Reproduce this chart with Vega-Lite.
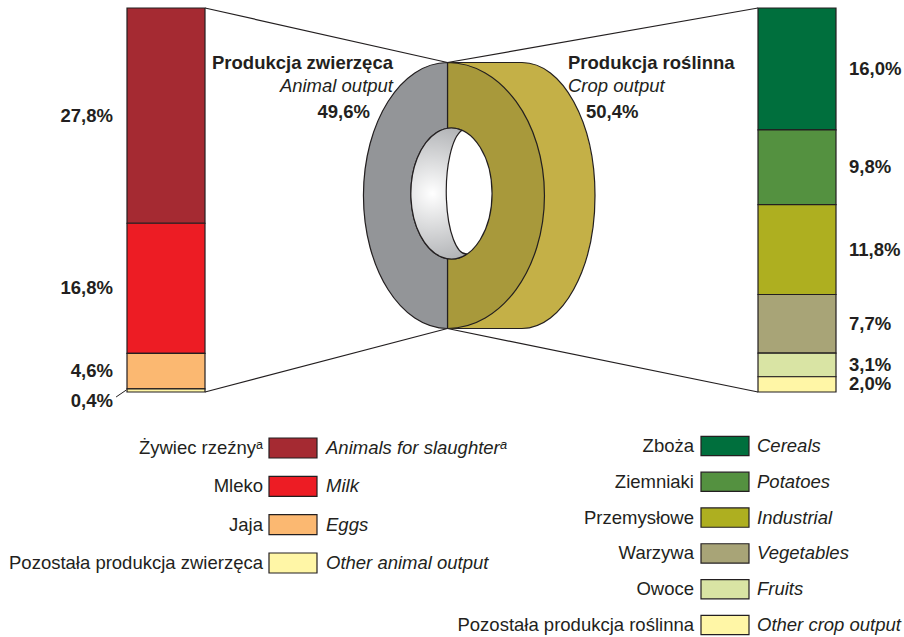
{
  "$schema": "https://vega.github.io/schema/vega-lite/v6.json",
  "width": 904,
  "height": 637,
  "padding": 0,
  "autosize": {"type": "none"},
  "background": "white",
  "config": {
    "view": {"stroke": null},
    "text": {"font": "Liberation Sans", "fontSize": 18.5, "color": "#231F20"},
    "rule": {"color": "#231F20", "strokeWidth": 1.2}
  },
  "datasets": {
    "items": [
      {"side": "Animal", "order": 1, "pl": "Żywiec rzeźnyᵃ", "en": "Animals for slaughterᵃ", "value": 27.8, "label": "27,8%"},
      {"side": "Animal", "order": 2, "pl": "Mleko", "en": "Milk", "value": 16.8, "label": "16,8%"},
      {"side": "Animal", "order": 3, "pl": "Jaja", "en": "Eggs", "value": 4.6, "label": "4,6%"},
      {"side": "Animal", "order": 4, "pl": "Pozostała produkcja zwierzęca", "en": "Other animal output", "value": 0.4, "label": "0,4%"},
      {"side": "Crop", "order": 1, "pl": "Zboża", "en": "Cereals", "value": 16.0, "label": "16,0%"},
      {"side": "Crop", "order": 2, "pl": "Ziemniaki", "en": "Potatoes", "value": 9.8, "label": "9,8%"},
      {"side": "Crop", "order": 3, "pl": "Przemysłowe", "en": "Industrial", "value": 11.8, "label": "11,8%"},
      {"side": "Crop", "order": 4, "pl": "Warzywa", "en": "Vegetables", "value": 7.7, "label": "7,7%"},
      {"side": "Crop", "order": 5, "pl": "Owoce", "en": "Fruits", "value": 3.1, "label": "3,1%"},
      {"side": "Crop", "order": 6, "pl": "Pozostała produkcja roślinna", "en": "Other crop output", "value": 2.0, "label": "2,0%"}
    ],
    "totals": [
      {"side": "Animal", "pl": "Produkcja zwierzęca", "en": "Animal output", "value": 49.6, "label": "49,6%"},
      {"side": "Crop", "pl": "Produkcja roślinna", "en": "Crop output", "value": 50.4, "label": "50,4%"}
    ]
  },
  "resolve": {"scale": {"x": "independent", "y": "independent"}},
  "layer": [
    {
      "layer": [
        {
          "data": {"name": "items"},
          "transform": [
            {"stack": "value", "groupby": ["side"], "offset": "normalize", "sort": [{"field": "order", "order": "ascending"}], "as": ["y0", "y1"]}
          ],
          "mark": {"type": "rect", "stroke": "#231F20", "strokeWidth": 1.2},
          "encoding": {
            "x": {"field": "side", "type": "nominal", "axis": null, "scale": {"type": "band", "domain": ["Animal", "Center", "Crop"], "paddingInner": 0.75277, "paddingOuter": 0.30903, "align": 0.6513, "round": false}},
            "y": {"field": "y0", "type": "quantitative", "axis": null, "scale": {"type": "linear", "domain": [-0.0208333, 1.6380208], "reverse": true, "zero": false, "nice": false}},
            "y2": {"field": "y1"},
            "color": {"field": "en", "type": "nominal", "legend": null, "scale": {"domain": ["Animals for slaughterᵃ", "Milk", "Eggs", "Other animal output", "Cereals", "Potatoes", "Industrial", "Vegetables", "Fruits", "Other crop output"], "range": ["#A52A32", "#ED1C24", "#FBB871", "#FFF6A6", "#006F3D", "#549140", "#AEAF20", "#A8A477", "#D9E4A4", "#FFF6A6"]}}
          }
        },
        {
          "data": {"name": "items"},
          "transform": [
            {"stack": "value", "groupby": ["side"], "offset": "normalize", "sort": [{"field": "order", "order": "ascending"}], "as": ["y0", "y1"]},
            {"fold": ["y0", "y1"], "as": ["k", "v"]},
            {"aggregate": [{"op": "mean", "field": "v", "as": "mid"}], "groupby": ["side", "order", "label"]},
            {"filter": "datum.side === 'Animal' && datum.order < 4"}
          ],
          "mark": {"type": "text", "align": "right", "baseline": "middle", "dx": -14, "fontWeight": "bold"},
          "encoding": {
            "x": {"field": "side", "type": "nominal", "bandPosition": 0, "axis": null},
            "y": {"field": "mid", "type": "quantitative", "axis": null},
            "text": {"field": "label"}
          }
        },
        {
          "data": {"name": "items"},
          "transform": [
            {"stack": "value", "groupby": ["side"], "offset": "normalize", "sort": [{"field": "order", "order": "ascending"}], "as": ["y0", "y1"]},
            {"fold": ["y0", "y1"], "as": ["k", "v"]},
            {"aggregate": [{"op": "mean", "field": "v", "as": "mid"}], "groupby": ["side", "order", "label"]},
            {"filter": "datum.side === 'Animal' && datum.order === 4"}
          ],
          "mark": {"type": "text", "align": "right", "baseline": "middle", "dx": -14, "dy": 10.5, "fontWeight": "bold"},
          "encoding": {
            "x": {"field": "side", "type": "nominal", "bandPosition": 0, "axis": null},
            "y": {"field": "mid", "type": "quantitative", "axis": null},
            "text": {"field": "label"}
          }
        },
        {
          "data": {"name": "items"},
          "transform": [
            {"stack": "value", "groupby": ["side"], "offset": "normalize", "sort": [{"field": "order", "order": "ascending"}], "as": ["y0", "y1"]},
            {"fold": ["y0", "y1"], "as": ["k", "v"]},
            {"aggregate": [{"op": "mean", "field": "v", "as": "mid"}], "groupby": ["side", "order", "label"]},
            {"filter": "datum.side === 'Crop'"}
          ],
          "mark": {"type": "text", "align": "left", "baseline": "middle", "dx": 13, "fontWeight": "bold"},
          "encoding": {
            "x": {"field": "side", "type": "nominal", "bandPosition": 1, "axis": null},
            "y": {"field": "mid", "type": "quantitative", "axis": null},
            "text": {"field": "label"}
          }
        },
        {
          "data": {"name": "totals"},
          "transform": [{"filter": "datum.side === 'Animal'"}],
          "mark": {"type": "rule"},
          "encoding": {
            "x": {"datum": "Animal", "type": "nominal", "bandPosition": 1, "axis": null},
            "x2": {"datum": "Center", "bandPosition": 0.0641},
            "y": {"datum": 0, "type": "quantitative", "axis": null},
            "y2": {"datum": 0.14193}
          }
        },
        {
          "data": {"name": "totals"},
          "transform": [{"filter": "datum.side === 'Animal'"}],
          "mark": {"type": "rule"},
          "encoding": {
            "x": {"datum": "Animal", "type": "nominal", "bandPosition": 1, "axis": null},
            "x2": {"datum": "Center", "bandPosition": 0.0641},
            "y": {"datum": 1, "type": "quantitative", "axis": null},
            "y2": {"datum": 0.83464}
          }
        },
        {
          "data": {"name": "totals"},
          "transform": [{"filter": "datum.side === 'Crop'"}],
          "mark": {"type": "rule"},
          "encoding": {
            "x": {"datum": "Crop", "type": "nominal", "bandPosition": 0, "axis": null},
            "x2": {"datum": "Center", "bandPosition": 0.0641},
            "y": {"datum": 0, "type": "quantitative", "axis": null},
            "y2": {"datum": 0.14193}
          }
        },
        {
          "data": {"name": "totals"},
          "transform": [{"filter": "datum.side === 'Crop'"}],
          "mark": {"type": "rule"},
          "encoding": {
            "x": {"datum": "Crop", "type": "nominal", "bandPosition": 0, "axis": null},
            "x2": {"datum": "Center", "bandPosition": 0.0641},
            "y": {"datum": 1, "type": "quantitative", "axis": null},
            "y2": {"datum": 0.83464}
          }
        },
        {
          "data": {"name": "totals"},
          "transform": [{"filter": "datum.side === 'Animal'"}],
          "mark": {"type": "rule", "strokeWidth": 1},
          "encoding": {
            "x": {"datum": "Animal", "type": "nominal", "bandPosition": -0.14, "axis": null},
            "x2": {"datum": "Animal", "bandPosition": -0.01},
            "y": {"datum": 1.013, "type": "quantitative", "axis": null},
            "y2": {"datum": 0.995}
          }
        },
        {
          "data": {"name": "totals"},
          "transform": [{"filter": "datum.side === 'Crop'"}],
          "mark": {"type": "point", "shape": "M0,-1L0.56,-1A0.549,1 0 0 1 0.56,1L0,1Z", "size": 70756, "filled": true, "fill": "#C4B047", "stroke": "#231F20", "strokeWidth": 1.2, "opacity": 1},
          "encoding": {
            "x": {"datum": "Center", "type": "nominal", "bandPosition": 0.0641, "axis": null},
            "y": {"datum": 0.48828, "type": "quantitative", "axis": null}
          }
        },
        {
          "data": {"name": "totals"},
          "transform": [{"filter": "datum.side === 'Crop'"}],
          "mark": {"type": "point", "shape": "M0,-1A0.729,1 0 0 1 0,1Z", "size": 70756, "filled": true, "fill": "#A8993B", "stroke": "#231F20", "strokeWidth": 1.2, "opacity": 1},
          "encoding": {
            "x": {"datum": "Center", "type": "nominal", "bandPosition": 0.0641, "axis": null},
            "y": {"datum": 0.48828, "type": "quantitative", "axis": null}
          }
        },
        {
          "data": {"name": "totals"},
          "transform": [{"filter": "datum.side === 'Animal'"}],
          "mark": {"type": "point", "shape": "M0,-1A0.632,1 0 0 0 0,1Z", "size": 70756, "filled": true, "fill": "#939598", "stroke": "#231F20", "strokeWidth": 1.2, "opacity": 1},
          "encoding": {
            "x": {"datum": "Center", "type": "nominal", "bandPosition": 0.0641, "axis": null},
            "y": {"datum": 0.48828, "type": "quantitative", "axis": null}
          }
        },
        {
          "data": {"name": "totals"},
          "transform": [{"filter": "datum.side === 'Animal'"}],
          "mark": {"type": "point", "shape": "M-0.275,-0.015A0.305,0.492 0 1 0 0.335,-0.015A0.305,0.492 0 1 0 -0.275,-0.015Z", "size": 70756, "filled": true, "fill": "#FFFFFF", "stroke": "#231F20", "strokeWidth": 1.2, "opacity": 1},
          "encoding": {
            "x": {"datum": "Center", "type": "nominal", "bandPosition": 0.0641, "axis": null},
            "y": {"datum": 0.48828, "type": "quantitative", "axis": null}
          }
        },
        {
          "data": {"name": "totals"},
          "transform": [{"filter": "datum.side === 'Animal'"}],
          "mark": {"type": "point", "shape": "M0.109,-0.490A0.305,0.492 0 1 0 0.147,0.439A0.15,0.47 0 0 1 0.109,-0.490Z", "size": 70756, "filled": true, "fill": {"gradient": "radial", "x1": 0.45, "y1": 0.5, "x2": 0.45, "y2": 0.5, "r1": 0, "r2": 0.6, "stops": [{"offset": 0, "color": "#FFFFFF"}, {"offset": 1, "color": "#A7A9AC"}]}, "stroke": "#231F20", "strokeWidth": 1.2, "opacity": 1},
          "encoding": {
            "x": {"datum": "Center", "type": "nominal", "bandPosition": 0.0641, "axis": null},
            "y": {"datum": 0.48828, "type": "quantitative", "axis": null}
          }
        },
        {
          "data": {"name": "totals"},
          "transform": [{"filter": "datum.side === 'Animal'"}],
          "mark": {"type": "text", "align": "right", "baseline": "middle", "dx": -54.5, "fontWeight": "bold"},
          "encoding": {
            "x": {"datum": "Center", "type": "nominal", "bandPosition": 0.0641, "axis": null},
            "y": {"datum": 0.14193, "type": "quantitative", "axis": null},
            "text": {"field": "pl"}
          }
        },
        {
          "data": {"name": "totals"},
          "transform": [{"filter": "datum.side === 'Animal'"}],
          "mark": {"type": "text", "align": "right", "baseline": "middle", "dx": -54.5, "dy": 23, "fontStyle": "italic"},
          "encoding": {
            "x": {"datum": "Center", "type": "nominal", "bandPosition": 0.0641, "axis": null},
            "y": {"datum": 0.14193, "type": "quantitative", "axis": null},
            "text": {"field": "en"}
          }
        },
        {
          "data": {"name": "totals"},
          "transform": [{"filter": "datum.side === 'Animal'"}],
          "mark": {"type": "text", "align": "right", "baseline": "middle", "dx": -77.5, "dy": 49, "fontWeight": "bold"},
          "encoding": {
            "x": {"datum": "Center", "type": "nominal", "bandPosition": 0.0641, "axis": null},
            "y": {"datum": 0.14193, "type": "quantitative", "axis": null},
            "text": {"field": "label"}
          }
        },
        {
          "data": {"name": "totals"},
          "transform": [{"filter": "datum.side === 'Crop'"}],
          "mark": {"type": "text", "align": "left", "baseline": "middle", "dx": 120.5, "fontWeight": "bold"},
          "encoding": {
            "x": {"datum": "Center", "type": "nominal", "bandPosition": 0.0641, "axis": null},
            "y": {"datum": 0.14193, "type": "quantitative", "axis": null},
            "text": {"field": "pl"}
          }
        },
        {
          "data": {"name": "totals"},
          "transform": [{"filter": "datum.side === 'Crop'"}],
          "mark": {"type": "text", "align": "left", "baseline": "middle", "dx": 120.5, "dy": 23, "fontStyle": "italic"},
          "encoding": {
            "x": {"datum": "Center", "type": "nominal", "bandPosition": 0.0641, "axis": null},
            "y": {"datum": 0.14193, "type": "quantitative", "axis": null},
            "text": {"field": "en"}
          }
        },
        {
          "data": {"name": "totals"},
          "transform": [{"filter": "datum.side === 'Crop'"}],
          "mark": {"type": "text", "align": "left", "baseline": "middle", "dx": 138.5, "dy": 49, "fontWeight": "bold"},
          "encoding": {
            "x": {"datum": "Center", "type": "nominal", "bandPosition": 0.0641, "axis": null},
            "y": {"datum": 0.14193, "type": "quantitative", "axis": null},
            "text": {"field": "label"}
          }
        }
      ]
    },
    {
      "data": {"name": "items"},
      "transform": [{"filter": "datum.side === 'Animal'"}],
      "layer": [
        {
          "mark": {"type": "rect", "stroke": "#231F20", "strokeWidth": 1.2},
          "encoding": {
            "x": {"field": "side", "type": "nominal", "axis": null, "scale": {"type": "band", "domain": ["Animal", "Crop"], "paddingInner": 0.88889, "paddingOuter": 0.49074, "align": 0.63443, "round": false}},
            "y": {"field": "order", "type": "ordinal", "axis": null, "scale": {"type": "band", "domain": [1, 2, 3, 4], "range": [438, 573], "paddingInner": 0.47826, "paddingOuter": 0, "round": false}},
            "color": {"field": "en", "type": "nominal", "legend": null}
          }
        },
        {
          "mark": {"type": "text", "align": "right", "baseline": "middle", "dx": -6},
          "encoding": {
            "x": {"field": "side", "type": "nominal", "bandPosition": 0, "axis": null},
            "y": {"field": "order", "type": "ordinal", "axis": null},
            "text": {"field": "pl"}
          }
        },
        {
          "mark": {"type": "text", "align": "left", "baseline": "middle", "dx": 9, "fontStyle": "italic"},
          "encoding": {
            "x": {"field": "side", "type": "nominal", "bandPosition": 1, "axis": null},
            "y": {"field": "order", "type": "ordinal", "axis": null},
            "text": {"field": "en"}
          }
        }
      ]
    },
    {
      "data": {"name": "items"},
      "transform": [{"filter": "datum.side === 'Crop'"}],
      "layer": [
        {
          "mark": {"type": "rect", "stroke": "#231F20", "strokeWidth": 1.2},
          "encoding": {
            "x": {"field": "side", "type": "nominal", "axis": null, "scale": {"type": "band", "domain": ["Animal", "Crop"], "paddingInner": 0.88889, "paddingOuter": 0.49074, "align": 0.63443, "round": false}},
            "y": {"field": "order", "type": "ordinal", "axis": null, "scale": {"type": "band", "domain": [1, 2, 3, 4, 5, 6], "range": [436.35, 634.65], "paddingInner": 0.4609, "paddingOuter": 0, "round": false}},
            "color": {"field": "en", "type": "nominal", "legend": null}
          }
        },
        {
          "mark": {"type": "text", "align": "right", "baseline": "middle", "dx": -7},
          "encoding": {
            "x": {"field": "side", "type": "nominal", "bandPosition": 0, "axis": null},
            "y": {"field": "order", "type": "ordinal", "axis": null},
            "text": {"field": "pl"}
          }
        },
        {
          "mark": {"type": "text", "align": "left", "baseline": "middle", "dx": 8, "fontStyle": "italic"},
          "encoding": {
            "x": {"field": "side", "type": "nominal", "bandPosition": 1, "axis": null},
            "y": {"field": "order", "type": "ordinal", "axis": null},
            "text": {"field": "en"}
          }
        }
      ]
    }
  ]
}
